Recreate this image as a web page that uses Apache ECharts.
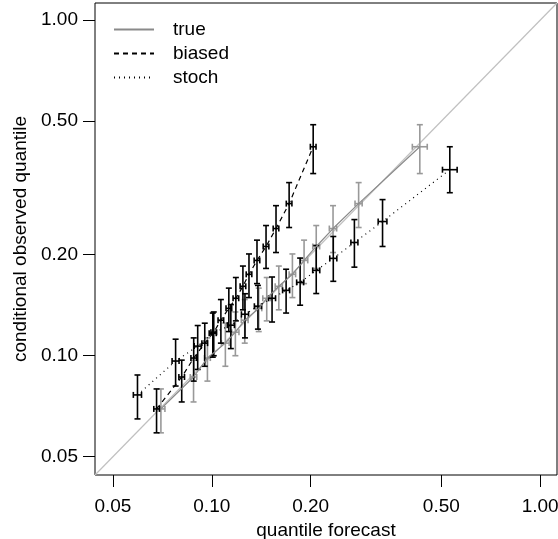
<!DOCTYPE html>
<html>
<head>
<meta charset="utf-8">
<script src="https://cdn.jsdelivr.net/npm/echarts@6/dist/echarts.min.js"></script>
<style>
  html, body { margin: 0; padding: 0; background: #fff; }
  #chart { width: 558px; height: 539px; }
</style>
</head>
<body>
<div id="chart"></div>
<script>
// tick labels for both log axes
const tickValues = [0.05, 0.1, 0.2, 0.5, 1]

// observed quantile per bin, shared by "true" and "biased" (same observations)
const obsY = [0.0694, 0.0864, 0.0984, 0.109, 0.1175, 0.1276, 0.1384, 0.1483, 0.161, 0.1748, 0.1923, 0.2116, 0.2393, 0.284, 0.4195]
const obsLo = [0.0589, 0.0728, 0.084, 0.093, 0.100, 0.109, 0.118, 0.127, 0.137, 0.149, 0.164, 0.182, 0.203, 0.241, 0.349]
const obsHi = [0.0796, 0.097, 0.113, 0.125, 0.135, 0.147, 0.159, 0.171, 0.185, 0.201, 0.221, 0.2443, 0.280, 0.328, 0.488]

// forecast of the "true" model
const trueX = [0.070, 0.088, 0.097, 0.110, 0.118, 0.126, 0.139, 0.147, 0.160, 0.176, 0.191, 0.208, 0.234, 0.280, 0.430]
const trueXLo = [0.068, 0.086, 0.095, 0.107, 0.115, 0.123, 0.136, 0.143, 0.156, 0.172, 0.186, 0.203, 0.228, 0.273, 0.408]
const trueXHi = [0.072, 0.090, 0.099, 0.113, 0.121, 0.129, 0.142, 0.151, 0.164, 0.180, 0.196, 0.213, 0.240, 0.287, 0.453]

// forecast of the "biased" model
const biasedX = [0.0679, 0.0810, 0.0881, 0.0952, 0.1014, 0.1066, 0.1127, 0.1184, 0.1244, 0.1298, 0.1373, 0.1463, 0.1569, 0.1720, 0.2036]
const biasedXLo = [0.0666, 0.0794, 0.0864, 0.0933, 0.0994, 0.1045, 0.1105, 0.1161, 0.1220, 0.1273, 0.1346, 0.1434, 0.1538, 0.1686, 0.1996]
const biasedXHi = [0.0693, 0.0826, 0.0899, 0.0971, 0.1034, 0.1087, 0.1150, 0.1208, 0.1269, 0.1324, 0.1400, 0.1492, 0.1600, 0.1754, 0.2077]

// "stoch" model: own bins
const stochX = [0.0594, 0.0776, 0.0906, 0.1007, 0.1143, 0.1262, 0.1382, 0.1526, 0.1684, 0.1858, 0.2080, 0.2344, 0.2718, 0.3311, 0.5306]
const stochXLo = [0.0577, 0.0757, 0.0884, 0.0982, 0.1115, 0.1231, 0.1348, 0.1489, 0.1643, 0.1813, 0.2029, 0.2287, 0.2652, 0.3211, 0.5040]
const stochXHi = [0.0611, 0.0795, 0.0929, 0.1032, 0.1172, 0.1294, 0.1417, 0.1564, 0.1726, 0.1904, 0.2132, 0.2403, 0.2786, 0.3414, 0.5586]
const stochY = [0.0764, 0.0964, 0.1068, 0.1167, 0.1233, 0.1329, 0.1404, 0.1483, 0.1566, 0.1654, 0.1796, 0.1950, 0.2175, 0.2511, 0.3584]
const stochLo = [0.0648, 0.0812, 0.091, 0.099, 0.105, 0.113, 0.120, 0.126, 0.134, 0.1414, 0.1532, 0.1666, 0.1836, 0.2116, 0.306]
const stochHi = [0.0876, 0.112, 0.123, 0.134, 0.142, 0.153, 0.162, 0.1716, 0.181, 0.1954, 0.2131, 0.2266, 0.2545, 0.2919, 0.4195]

// same limits on both axes, so the y = x line runs corner to corner
const axisMin = 0.0441
const axisMax = 1.125
const FONT = 'Liberation Sans, Arial, Helvetica, sans-serif'

const zip = (...cols) => cols[0].map((_, i) => cols.map(c => c[i]))

// error bar glyph: [x, xlo, xhi, y, ylo, yhi]
const errorBars = (name, rows, color) => ({
  name,
  type: 'custom',
  silent: true,
  data: rows,
  encode: { x: [0, 1, 2], y: [3, 4, 5] },
  renderItem: (params, api) => {
    const c = api.coord([api.value(0), api.value(3)])
    const lo = api.coord([api.value(0), api.value(4)])
    const hi = api.coord([api.value(0), api.value(5)])
    const l = api.coord([api.value(1), api.value(3)])
    const r = api.coord([api.value(2), api.value(3)])
    const cap = 3
    const style = { stroke: color, lineWidth: 1.6 }
    const seg = (x1, y1, x2, y2) => ({ type: 'line', shape: { x1, y1, x2, y2 }, style })
    return {
      type: 'group',
      children: [
        seg(lo[0], lo[1], hi[0], hi[1]),
        seg(lo[0] - cap, lo[1], lo[0] + cap, lo[1]),
        seg(hi[0] - cap, hi[1], hi[0] + cap, hi[1]),
        seg(l[0], c[1], r[0], c[1]),
        seg(l[0], c[1] - cap, l[0], c[1] + cap),
        seg(r[0], c[1] - cap, r[0], c[1] + cap)
      ]
    }
  },
  z: 3
})

const lineSeries = (name, xs, ys, color, type) => ({
  name,
  type: 'line',
  data: zip(xs, ys),
  symbol: 'none',
  lineStyle: { color, width: 1.2, type },
  itemStyle: { color },
  silent: true,
  z: 4
})

const logAxis = (nameText, nameGap, labelMargin) => ({
  type: 'log',
  logBase: 10,
  min: axisMin,
  max: axisMax,
  name: nameText,
  nameLocation: 'middle',
  nameGap,
  nameTextStyle: { color: '#000', fontSize: 19, fontFamily: FONT },
  axisLine: { show: false },
  axisTick: { show: true, inside: false, length: 12, customValues: tickValues, lineStyle: { color: '#000', width: 1 } },
  axisLabel: {
    customValues: tickValues,
    color: '#000',
    fontSize: 19,
    fontFamily: FONT,
    margin: labelMargin,
    formatter: v => Number(v).toFixed(2)
  },
  splitLine: { show: false },
  minorTick: { show: false }
})

const chart = echarts.init(document.getElementById('chart'), null, { renderer: 'canvas' })

chart.setOption({
  animation: false,
  backgroundColor: '#fff',
  grid: {
    left: 95, right: 1, top: 3, bottom: 64,
    outerBoundsMode: 'none',
    containLabel: false,
    show: true, borderColor: '#000', borderWidth: 1, backgroundColor: 'transparent'
  },
  xAxis: logAxis('quantile forecast', 41, 22),
  yAxis: logAxis('conditional observed quantile', 60, 17),
  legend: {
    data: ['true', 'biased', 'stoch'],
    orient: 'vertical',
    left: 113,
    top: 20,
    padding: 0,
    itemWidth: 40,
    itemHeight: 14,
    itemGap: 5,
    selectedMode: false,
    itemStyle: { opacity: 0 },
    textStyle: { color: '#000', fontSize: 19, fontFamily: FONT, padding: [0, 0, 0, 14] }
  },
  series: [
    {
      name: 'diagonal',
      type: 'line',
      data: [[axisMin, axisMin], [axisMax, axisMax]],
      symbol: 'none',
      lineStyle: { color: '#c0c0c0', width: 1.2 },
      silent: true,
      z: 1
    },
    errorBars('true bars', zip(trueX, trueXLo, trueXHi, obsY, obsLo, obsHi), '#999999'),
    lineSeries('true', trueX, obsY, '#8a8a8a', 'solid'),
    errorBars('biased bars', zip(biasedX, biasedXLo, biasedXHi, obsY, obsLo, obsHi), '#000000'),
    lineSeries('biased', biasedX, obsY, '#000000', [5, 4]),
    errorBars('stoch bars', zip(stochX, stochXLo, stochXHi, stochY, stochLo, stochHi), '#000000'),
    lineSeries('stoch', stochX, stochY, '#000000', [1, 4])
  ]
})
</script>
</body>
</html>
